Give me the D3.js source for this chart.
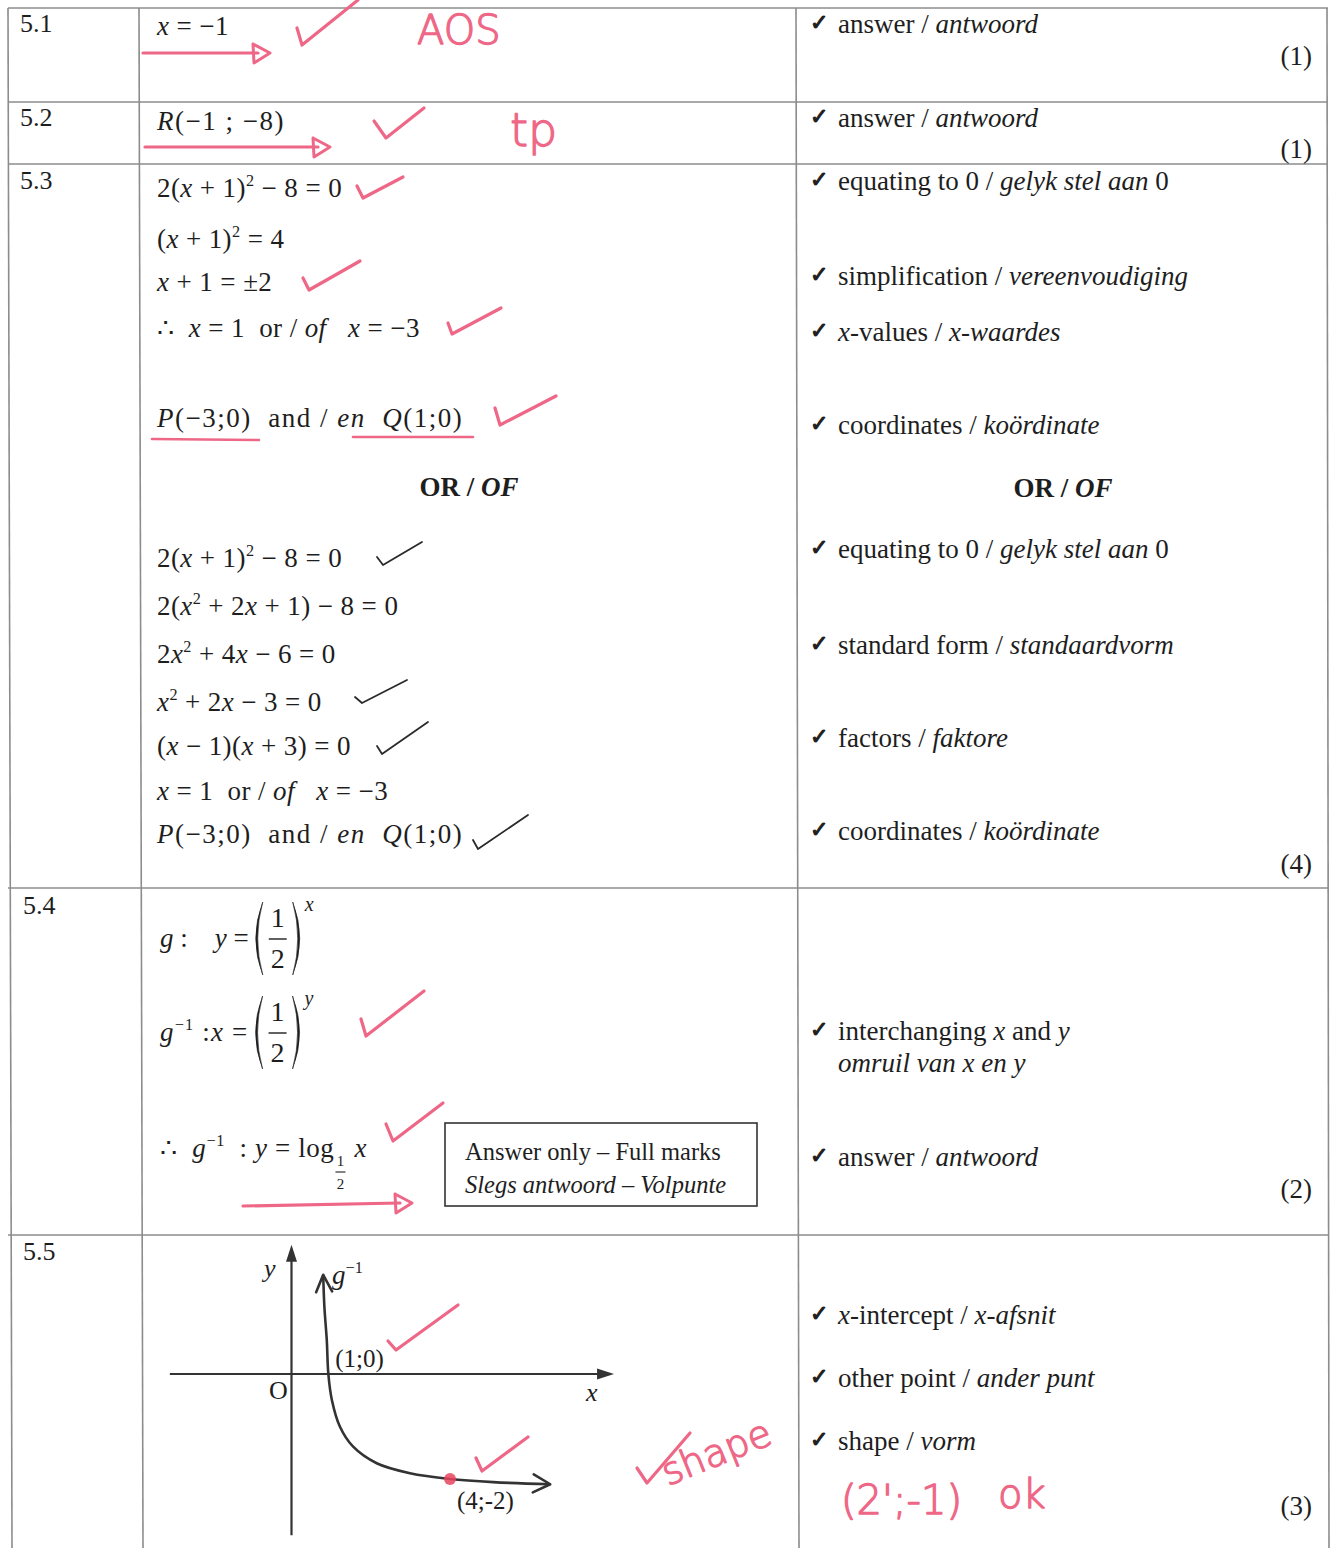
<!DOCTYPE html>
<html>
<head>
<meta charset="utf-8">
<title>Memo – Question 5</title>
<script src="https://d3js.org/d3.v7.min.js"></script>
<style>
    body { margin: 0; background: #fff; }
    text { font-family: "Liberation Serif", "Times New Roman", serif; fill: #1e1e1e; white-space: pre; }
    .hand { font-family: "DejaVu Sans", sans-serif; font-weight: 200; }
</style>
</head>
<body>
<script>
    var width = 1333, height = 1548;
    var ink = "#1e1e1e", rule = "#8c8c8c", pink = "#ee6787";

    // ---- content ----  (*..* italic, ^..^ superscript)
    var questions = ["5.1", "5.2", "5.3", "5.4", "5.5"];
    var markTotals = ["(1)", "(1)", "(4)", "(2)", "(3)"];

    var work51 = ["*x* = −1"];
    var work52 = ["*R*(−1 ; −8)"];
    var work53 = ["2(*x* + 1)^2^ − 8 = 0", "(*x* + 1)^2^ = 4", "*x* + 1 = ±2",
        "∴  *x* = 1  or / *of*   *x* = −3", "*P*(−3;0)  and / *en*  *Q*(1;0)"];
    var work53alt = ["2(*x* + 1)^2^ − 8 = 0", "2(*x*^2^ + 2*x* + 1) − 8 = 0", "2*x*^2^ + 4*x* − 6 = 0",
        "*x*^2^ + 2*x* − 3 = 0", "(*x* − 1)(*x* + 3) = 0", "*x* = 1  or / *of*   *x* = −3",
        "*P*(−3;0)  and / *en*  *Q*(1;0)"];
    var orLabel = "OR / *OF*";
    var work54 = ["*g* :    *y* =", "*g*^−1^ :*x* =", "∴  *g*^−1^  : *y* = log"];
    var work54frac = ["1", "2"];
    var work54power = ["*x*", "*y*"];
    var boxNote = ["Answer only – Full marks", "*Slegs antwoord – Volpunte*"];

    var criteria51 = ["answer / *antwoord*"];
    var criteria52 = ["answer / *antwoord*"];
    var criteria53 = ["equating to 0 / *gelyk stel aan* 0", "simplification / *vereenvoudiging*",
        "*x*-values / *x-waardes*", "coordinates / *koördinate*"];
    var criteria53alt = ["equating to 0 / *gelyk stel aan* 0", "standard form / *standaardvorm*",
        "factors / *faktore*", "coordinates / *koördinate*"];
    var criteria54 = ["interchanging *x* and *y*", "answer / *antwoord*"];
    var criteria54sub = ["*omruil van x en y*"];
    var criteria55 = ["*x*-intercept / *x-afsnit*", "other point / *ander punt*", "shape / *vorm*"];

    // sketch of g^-1
    var keyPoints = [{x: 1, y: 0, label: "(1;0)"}, {x: 4, y: -2, label: "(4;-2)"}];
    var curveX = [0.80, 0.83, 0.89, 0.93, 1.02, 1.22, 1.55, 2.15, 2.99, 4.00, 5.09, 6.53];
    var curveY = [1.89, 1.28, 0.65, 0.00, -0.50, -1.00, -1.38, -1.70, -1.89, -2.00, -2.06, -2.10];
    var axisXExtent = [-3.07, 8.14];
    var axisYExtent = [-3.07, 2.46];

    var handNotes = ["AOS", "tp", "shape", "(2';-1)", "ok"];

    // ---- page layout ----
    var hRules = [8, 102, 164, 888, 1235];
    var vRules = [[8, 12], [139, 143], [796, 799], [1327, 1329]];
    var qY = [32, 126, 189, 914, 1260];
    var totalY = [65, 158, 873, 1198, 1515];
    var work51Y = [35], work52Y = [130];
    var work53Y = [197, 248, 291, 337, 427];
    var work53altY = [567, 615, 663, 711, 755, 800, 843];
    var work54Y = [947, 1041, 1157];
    var crit51Y = [33], crit52Y = [127];
    var crit53Y = [190, 285, 341, 434];
    var crit53altY = [558, 654, 747, 840];
    var crit54Y = [1040, 1166], crit54subY = [1072];
    var crit55Y = [1324, 1387, 1450];

    var workX = 157, checkX = 810, critX = 838, totalX = 1312;
    var fs = 27;

    var svg = d3.select("body").append("svg")
        .attr("width", width)
        .attr("height", height);
    svg.append("rect").attr("width", width).attr("height", height).attr("fill", "#fff");

    function rich(sel, x, y, str, size, opts) {
        opts = opts || {};
        var t = sel.append("text")
            .attr("x", x).attr("y", y)
            .attr("font-size", size)
            .attr("font-weight", opts.bold ? "bold" : null)
            .attr("letter-spacing", opts.ls || null)
            .attr("text-anchor", opts.anchor || "start");
        var pending = 0;
        str.split(/(\*[^*]+\*|\^[^^]+\^)/).filter(function(s) { return s.length; }).forEach(function(p) {
            var ts = t.append("tspan");
            var dy = pending;
            pending = 0;
            if (p[0] === "*") ts.attr("font-style", "italic").text(p.slice(1, -1));
            else if (p[0] === "^") {
                ts.attr("font-size", size * 0.6).text(p.slice(1, -1));
                dy -= size * 0.42;
                pending = size * 0.42;
            }
            else ts.text(p);
            if (dy) ts.attr("dy", dy);
        });
        return t;
    }

    function tick(sel, pts, color, w) {
        sel.append("path")
            .attr("d", d3.line()(pts))
            .attr("fill", "none")
            .attr("stroke", color)
            .attr("stroke-width", w)
            .attr("stroke-linecap", "round")
            .attr("stroke-linejoin", "round");
    }

    function paren(sel, x, yt, yb, left) {
        var ym = (yt + yb) / 2, d;
        if (left) {
            d = "M" + (x + 7) + "," + yt + " Q" + (x - 7) + "," + ym + " " + (x + 7) + "," + yb +
                " Q" + (x - 3) + "," + ym + " " + (x + 7) + "," + yt + "Z";
        } else {
            d = "M" + x + "," + yt + " Q" + (x + 14) + "," + ym + " " + x + "," + yb +
                " Q" + (x + 10) + "," + ym + " " + x + "," + yt + "Z";
        }
        sel.append("path").attr("d", d).attr("fill", ink).attr("stroke", ink).attr("stroke-width", 0.6);
    }

    // ---- table rules ----
    var rules = svg.append("g").attr("stroke", rule).attr("stroke-width", 1.6);
    vRules.forEach(function(v) {
        rules.append("line").attr("x1", v[0]).attr("y1", 8).attr("x2", v[1]).attr("y2", height);
    });
    hRules.forEach(function(y) {
        rules.append("line").attr("x1", 8).attr("y1", y).attr("x2", 1328).attr("y2", y);
    });

    // ---- question numbers and totals ----
    var txt = svg.append("g");
    questions.forEach(function(q, i) {
        txt.append("text").attr("x", i < 3 ? 20 : 23).attr("y", qY[i]).attr("font-size", 26).text(q);
        txt.append("text").attr("x", totalX).attr("y", totalY[i]).attr("font-size", fs)
            .attr("text-anchor", "end").text(markTotals[i]);
    });

    // ---- working column ----
    function workBlock(lines, ys) {
        lines.forEach(function(s, i) {
            var wide = /^\*[PR]\*/.test(s);
            rich(txt, workX, ys[i], s, fs, {ls: wide ? 1.5 : 0.4});
        });
    }
    workBlock(work51, work51Y);
    workBlock(work52, work52Y);
    workBlock(work53, work53Y);
    workBlock(work53alt, work53altY);
    rich(txt, 469, 496, orLabel, fs, {bold: true, anchor: "middle"});
    rich(txt, 1063, 497, orLabel, fs, {bold: true, anchor: "middle"});

    // 5.4 with fractions
    var math = svg.append("g");
    [0, 1].forEach(function(i) {
        var y = work54Y[i];
        var t = rich(math, 160, y, work54[i], fs, {ls: i ? 1.2 : 0});
        var end = 160 + t.node().getComputedTextLength();
        var pl = end + 7, cx = pl + 22;
        var yt = y - 45, yb = y + 28;
        paren(math, pl, yt, yb, true);
        paren(math, cx + 15, yt, yb, false);
        math.append("text").attr("x", cx).attr("y", y - 20).attr("font-size", 28)
            .attr("text-anchor", "middle").text(work54frac[0]);
        math.append("line").attr("x1", cx - 9).attr("x2", cx + 9).attr("y1", y - 8).attr("y2", y - 8)
            .attr("stroke", ink).attr("stroke-width", 1.4);
        math.append("text").attr("x", cx).attr("y", y + 21).attr("font-size", 28)
            .attr("text-anchor", "middle").text(work54frac[1]);
        rich(math, cx + 27, y - 36, work54power[i], 20);
    });
    (function() {
        var y = work54Y[2];
        var t = rich(math, 160, y, work54[2], fs, {ls: 0.6});
        var end = 160 + t.node().getComputedTextLength();
        var cx = end + 6;
        math.append("text").attr("x", cx).attr("y", y + 9).attr("font-size", 15)
            .attr("text-anchor", "middle").text(work54frac[0]);
        math.append("line").attr("x1", cx - 5).attr("x2", cx + 5).attr("y1", y + 15).attr("y2", y + 15)
            .attr("stroke", ink).attr("stroke-width", 1.1);
        math.append("text").attr("x", cx).attr("y", y + 32).attr("font-size", 15)
            .attr("text-anchor", "middle").text(work54frac[1]);
        rich(math, cx + 14, y, "*x*", fs);
    })();

    math.append("rect").attr("x", 445).attr("y", 1123).attr("width", 312).attr("height", 83)
        .attr("fill", "none").attr("stroke", "#333").attr("stroke-width", 1.6);
    rich(math, 465, 1160, boxNote[0], 24.5);
    rich(math, 465, 1193, boxNote[1], 24.5);

    // ---- criteria column ----
    function critBlock(lines, ys, withCheck) {
        lines.forEach(function(s, i) {
            if (withCheck) {
                txt.append("text").attr("x", checkX).attr("y", ys[i] - 3)
                    .style("font-family", "DejaVu Sans").attr("font-weight", "bold")
                    .attr("font-size", 22)
                    .attr("stroke", ink).attr("stroke-width", 1.1)
                    .text("✓");
            }
            rich(txt, critX, ys[i], s, fs);
        });
    }
    critBlock(criteria51, crit51Y, true);
    critBlock(criteria52, crit52Y, true);
    critBlock(criteria53, crit53Y, true);
    critBlock(criteria53alt, crit53altY, true);
    critBlock(criteria54, crit54Y, true);
    critBlock(criteria54sub, crit54subY, false);
    critBlock(criteria55, crit55Y, true);

    // ---- 5.5 sketch ----
    var gx = d3.scaleLinear().domain([0, 4]).range([291.5, 450]);
    var gy = d3.scaleLinear().domain([0, -2]).range([1374, 1479]);
    var graph = svg.append("g");

    function head(sel, tip, from, len, half, filled) {
        var a = Math.atan2(tip[1] - from[1], tip[0] - from[0]);
        var bx = tip[0] - len * Math.cos(a), by = tip[1] - len * Math.sin(a);
        var p1 = [bx + half * Math.sin(a), by - half * Math.cos(a)];
        var p2 = [bx - half * Math.sin(a), by + half * Math.cos(a)];
        if (filled) {
            sel.append("path").attr("d", d3.line()([p1, tip, p2]) + "Z").attr("fill", "#333");
        } else {
            tick(sel, [p1, tip, p2], "#333", 2.6);
        }
    }

    var axisColor = "#333";
    graph.append("line").attr("x1", gx(axisXExtent[0])).attr("x2", gx(axisXExtent[1]) - 8)
        .attr("y1", gy(0)).attr("y2", gy(0)).attr("stroke", axisColor).attr("stroke-width", 2.2);
    graph.append("line").attr("x1", gx(0)).attr("x2", gx(0))
        .attr("y1", gy(axisYExtent[0])).attr("y2", gy(axisYExtent[1]) + 8)
        .attr("stroke", axisColor).attr("stroke-width", 2.2);
    head(graph, [gx(axisXExtent[1]), gy(0)], [gx(0), gy(0)], 17, 5.5, true);
    head(graph, [gx(0), gy(axisYExtent[1])], [gx(0), gy(0)], 17, 5.5, true);

    var curvePts = curveX.map(function(x, i) { return [gx(x), gy(curveY[i])]; });
    graph.append("path")
        .attr("d", d3.line().curve(d3.curveCatmullRom)(curvePts))
        .attr("fill", "none").attr("stroke", "#333").attr("stroke-width", 2.6);
    head(graph, curvePts[0], curvePts[2], 17, 8, false);
    head(graph, curvePts[curvePts.length - 1], curvePts[curvePts.length - 3], 17, 9, false);

    rich(graph, 264, 1277, "*y*", 26);
    rich(graph, 586, 1401, "*x*", 26);
    graph.append("text").attr("x", 269).attr("y", 1399).attr("font-size", 26).text("O");
    rich(graph, 332, 1284, "*g*^−1^", 27);
    graph.append("text").attr("x", gx(keyPoints[0].x) + 4).attr("y", gy(keyPoints[0].y) - 7)
        .attr("font-size", 25).text(keyPoints[0].label);
    graph.append("text").attr("x", gx(keyPoints[1].x) + 7).attr("y", gy(keyPoints[1].y) + 30)
        .attr("font-size", 25).text(keyPoints[1].label);

    // ---- marker's annotations ----
    var hand = svg.append("g");
    var pinkTicks = [
        [[297, 28], [302, 45], [358, 0]],
        [[374, 121], [386, 138], [424, 108]],
        [[357, 186], [363, 198], [403, 177]],
        [[303, 278], [309, 290], [360, 261]],
        [[448, 323], [452, 334], [501, 308]],
        [[495, 408], [500, 425], [556, 396]],
        [[361, 1019], [366, 1036], [424, 991]],
        [[386, 1124], [393, 1141], [443, 1103]],
        [[388, 1341], [396, 1350], [458, 1305]],
        [[476, 1458], [482, 1471], [528, 1437]],
        [[637, 1468], [647, 1483], [690, 1433]]
    ];
    pinkTicks.forEach(function(p) { tick(hand, p, pink, 3.2); });

    var inkTicks = [
        [[377, 557], [383, 565], [422, 542]],
        [[355, 697], [362, 703], [407, 680]],
        [[377, 746], [382, 754], [428, 722]],
        [[473, 840], [478, 849], [528, 815]]
    ];
    inkTicks.forEach(function(p) { tick(hand, p, "#2a2a2a", 1.8); });

    // arrows
    var arrows = [
        {from: [143, 53], to: [270, 53]},
        {from: [145, 147], to: [330, 147]},
        {from: [243, 1206], to: [412, 1203]}
    ];
    arrows.forEach(function(a) {
        tick(hand, [a.from, [a.to[0] - 12, a.to[1]]], pink, 3.2);
        var tip = a.to;
        tick(hand, [[tip[0] - 17, tip[1] - 9], tip, [tip[0] - 16, tip[1] + 10], [tip[0] - 17, tip[1] - 9]], pink, 3);
    });
    // underlines
    tick(hand, [[152, 439], [259, 440]], pink, 2.6);
    tick(hand, [[353, 437], [473, 437]], pink, 2.6);

    // dot on (4;-2)
    hand.append("circle").attr("cx", gx(keyPoints[1].x)).attr("cy", gy(keyPoints[1].y))
        .attr("r", 6).attr("fill", "#e8445f").attr("opacity", 0.85);

    function note(text, size, transform) {
        hand.append("text").attr("class", "hand")
            .attr("transform", transform)
            .attr("font-size", size)
            .style("fill", pink)
            .attr("stroke", pink).attr("stroke-width", 1.3).attr("stroke-linejoin", "round")
            .text(text);
    }
    note(handNotes[0], 40, "translate(417,44)");
    note(handNotes[1], 46, "translate(510,146)");
    note(handNotes[2], 38, "translate(668,1486) rotate(-22)");
    note(handNotes[3], 40, "translate(841,1514)");
    note(handNotes[4], 40, "translate(998,1508)");
</script>
</body>
</html>
